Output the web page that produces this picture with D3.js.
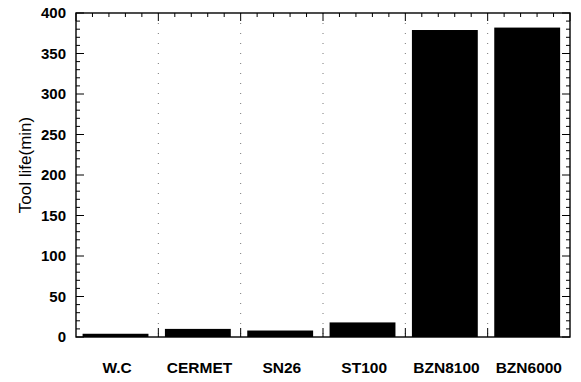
<!DOCTYPE html>
<html>
<head>
<meta charset="utf-8">
<script src="https://cdn.jsdelivr.net/npm/d3@7"></script>
<style>
  body { margin: 0; background: #fff; }
  text { font-family: "Liberation Sans", Arial, sans-serif; fill: #000; }
</style>
</head>
<body>
<div id="chart"></div>
<script>
// Tool life data
var tools = ["W.C", "CERMET", "SN26", "ST100", "BZN8100", "BZN6000"];
var toolLife = [4, 10, 8, 18, 379, 382];
var yTicks = [0, 50, 100, 150, 200, 250, 300, 350, 400];

var width = 581, height = 382;
var m = {left: 76, right: 11, top: 13, bottom: 45};

var svg = d3.select("#chart").append("svg")
    .attr("width", width)
    .attr("height", height);

var y = d3.scaleLinear().domain([0, 400]).range([height - m.bottom, m.top]);

// boundaries between categories
var xCat = d3.scaleBand().domain(tools).range([m.left, width - m.right]).padding(0);
// bars sit a little left of centre inside each slot
var xBar = d3.scaleBand().domain(tools).range([m.left, width - m.right])
    .paddingInner(0.2).paddingOuter(0.1).align(0.4);

var step = xCat.step();

// faint dotted lines at category borders
svg.append("g").selectAll("line")
    .data(tools.slice(1))
    .enter().append("line")
    .attr("x1", function(d) { return xCat(d); })
    .attr("x2", function(d) { return xCat(d); })
    .attr("y1", y(400))
    .attr("y2", y(0))
    .attr("stroke", "#777")
    .attr("stroke-width", 1)
    .attr("stroke-dasharray", "1,9");

// bars
svg.append("g").selectAll("rect")
    .data(tools)
    .enter().append("rect")
    .attr("x", function(d) { return xBar(d); })
    .attr("width", xBar.bandwidth())
    .attr("y", function(d, i) { return y(toolLife[i]); })
    .attr("height", function(d, i) { return y(0) - y(toolLife[i]); })
    .attr("fill", "#000");

// frame
svg.append("rect")
    .attr("x", m.left).attr("y", m.top)
    .attr("width", width - m.left - m.right)
    .attr("height", y(0) - m.top)
    .attr("fill", "none")
    .attr("stroke", "#000")
    .attr("stroke-width", 1.4);

// left & right y ticks (inward)
var minor = d3.range(0, 401, 10);
[[m.left, 1], [width - m.right, -1]].forEach(function(side) {
  var g = svg.append("g");
  g.selectAll("line.minor").data(minor).enter().append("line")
      .attr("x1", side[0]).attr("x2", function(d) { return side[0] + side[1] * (d % 50 === 0 ? 8 : 4); })
      .attr("y1", function(d) { return y(d); }).attr("y2", function(d) { return y(d); })
      .attr("stroke", "#000").attr("stroke-width", 1);
});

// top minor ticks (5 per slot), border ticks longer
var topTicks = d3.range(0, tools.length * 5 + 1);
svg.append("g").selectAll("line").data(topTicks).enter().append("line")
    .attr("x1", function(i) { return m.left + i * step / 5; })
    .attr("x2", function(i) { return m.left + i * step / 5; })
    .attr("y1", m.top)
    .attr("y2", function(i) { return m.top + (i % 5 === 0 ? 8 : 4); })
    .attr("stroke", "#000").attr("stroke-width", 1);

// bottom border ticks
svg.append("g").selectAll("line").data(tools.slice(1)).enter().append("line")
    .attr("x1", function(d) { return xCat(d); })
    .attr("x2", function(d) { return xCat(d); })
    .attr("y1", y(0))
    .attr("y2", y(0) - 9)
    .attr("stroke", "#000").attr("stroke-width", 1);

// y tick labels
svg.append("g").selectAll("text").data(yTicks).enter().append("text")
    .attr("x", m.left - 10)
    .attr("y", function(d) { return y(d); })
    .attr("dy", "0.36em")
    .attr("text-anchor", "end")
    .style("font-size", "15px")
    .style("font-weight", "bold")
    .text(function(d) { return d; });

// x labels
svg.append("g").selectAll("text").data(tools).enter().append("text")
    .attr("x", function(d) { return xCat(d) + step / 2; })
    .attr("y", 373)
    .attr("text-anchor", "middle")
    .style("font-size", "15.5px")
    .style("font-weight", "bold")
    .text(function(d) { return d; });

// y axis title
svg.append("text")
    .attr("transform", "translate(31,165) rotate(-90)")
    .attr("text-anchor", "middle")
    .style("font-size", "17px")
    .text("Tool life(min)");
</script>
</body>
</html>
